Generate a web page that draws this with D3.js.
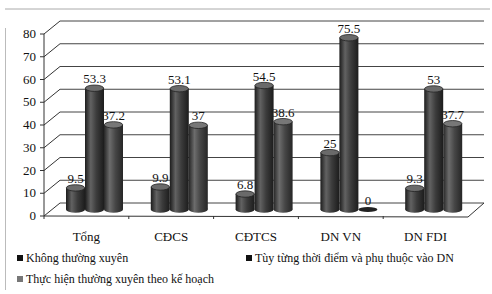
<!DOCTYPE html>
<html>
<head>
<meta charset="utf-8">
<script src="https://cdn.jsdelivr.net/npm/d3@7"></script>
<style>
  body { margin: 0; background: #fff; }
</style>
</head>
<body>
<div id="chart"></div>
<script>
var categories = ["Tổng", "CĐCS", "CĐTCS", "DN VN", "DN FDI"];
var seriesNames = ["Không thường xuyên", "Tùy từng thời điểm và phụ thuộc vào DN", "Thực hiện thường xuyên theo kế hoạch"];
var khongThuongXuyen = [9.5, 9.9, 6.8, 25, 9.3];
var tuyTungThoiDiem = [53.3, 53.1, 54.5, 75.5, 53];
var thucHienThuongXuyen = [37.2, 37, 38.6, 0, 37.7];
var yTicks = [0, 10, 20, 30, 40, 50, 60, 70, 80];

var width = 492, height = 294;
// depth offset of the 3d box (front plane -> back wall)
var dx = 16, dy = -13;

var svg = d3.select("#chart").append("svg")
    .attr("width", width)
    .attr("height", height);

// all texts in the chart use the same serif face
function label(sel, size) {
  return sel.style("font-family", "Liberation Serif")
    .style("font-size", size + "px")
    .attr("fill", "#111");
}

var defs = svg.append("defs");
function cylGrad(id, dark, mid, light) {
  var g = defs.append("linearGradient").attr("id", id)
      .attr("x1", "0%").attr("x2", "100%").attr("y1", "0%").attr("y2", "0%");
  g.append("stop").attr("offset", "0%").attr("stop-color", dark);
  g.append("stop").attr("offset", "30%").attr("stop-color", light);
  g.append("stop").attr("offset", "60%").attr("stop-color", mid);
  g.append("stop").attr("offset", "100%").attr("stop-color", dark);
}
cylGrad("g0", "#1c1c1c", "#3c3c3c", "#626262");
cylGrad("g1", "#1c1c1c", "#3c3c3c", "#626262");
cylGrad("g2", "#262626", "#464646", "#6c6c6c");
var topFill = ["#6a6a6a", "#6a6a6a", "#777"];
var legendFill = ["#111", "#111", "#777"];

// scan border remnants
svg.append("line").attr("x1", 5).attr("x2", 490).attr("y1", 9).attr("y2", 9)
    .attr("stroke", "#aaa").attr("stroke-width", 1);
svg.append("line").attr("x1", 5.5).attr("x2", 5.5).attr("y1", 28).attr("y2", 290)
    .attr("stroke", "#bbb").attr("stroke-width", 1);

// front plane scales
var y = d3.scaleLinear().domain([0, 80]).range([216, 34]);
var x0 = d3.scaleBand().domain(categories).range([44, 468]);
var x1 = d3.scaleBand().domain([0, 1, 2]).range([14, 71]);

var g = svg.append("g");

// back wall gridlines + diagonal side lines
yTicks.forEach(function(t) {
  g.append("line")
    .attr("x1", 44 + dx).attr("x2", 468 + dx)
    .attr("y1", y(t) + dy).attr("y2", y(t) + dy)
    .attr("stroke", "#444").attr("stroke-width", 1);
  g.append("line")
    .attr("x1", 44).attr("x2", 44 + dx)
    .attr("y1", y(t)).attr("y2", y(t) + dy)
    .attr("stroke", "#333").attr("stroke-width", 1);
  g.append("line")
    .attr("x1", 40).attr("x2", 44)
    .attr("y1", y(t)).attr("y2", y(t))
    .attr("stroke", "#333");
  label(g.append("text"), 13)
    .attr("x", 36).attr("y", y(t) + 4)
    .attr("text-anchor", "end")
    .text(t);
});

// front axis + floor
g.append("line").attr("x1", 44).attr("x2", 44).attr("y1", y(80)).attr("y2", y(0))
  .attr("stroke", "#333");
g.append("path")
  .attr("d", "M44," + y(0) + "L468," + (y(0) + 1) + "L" + (468 + dx) + "," + (y(0) + dy))
  .attr("fill", "none").attr("stroke", "#333");
categories.forEach(function(c) {
  var xx = x0(c);
  g.append("line").attr("x1", xx).attr("x2", xx).attr("y1", y(0)).attr("y2", y(0) + 3)
    .attr("stroke", "#333");
  label(g.append("text"), 13)
    .attr("x", x0(c) + x0.bandwidth() / 2)
    .attr("y", 241)
    .attr("text-anchor", "middle")
    .text(c);
});

var allSeries = [khongThuongXuyen, tuyTungThoiDiem, thucHienThuongXuyen];
var ry = 3.2;
function ymid(v) { return y(v) + dy / 2; }

// labels of third series go under the bars (partly hidden like the original)
function drawLabels(s) {
  categories.forEach(function(c, i) {
    var v = allSeries[s][i];
    var cx = x0(c) + x1(s) + dx / 2 + x1.bandwidth() / 2;
    label(g.append("text"), 13)
      .attr("x", cx)
      .attr("y", ymid(v) - 5)
      .attr("text-anchor", "middle")
      .text(String(v));
  });
}
drawLabels(2);

allSeries.forEach(function(vals, s) {
  categories.forEach(function(c, i) {
    var v = vals[i];
    var bx = x0(c) + x1(s) + dx / 2;
    var bw = x1.bandwidth();
    var cx = bx + bw / 2;
    var yb = ymid(0), yt = ymid(v);
    if (v == 0) {
      g.append("ellipse").attr("cx", cx).attr("cy", yb).attr("rx", bw / 2).attr("ry", ry * 0.8)
        .attr("fill", "#222");
      return;
    }
    g.append("ellipse").attr("cx", cx).attr("cy", yb).attr("rx", bw / 2).attr("ry", ry)
      .attr("fill", "url(#g" + s + ")");
    g.append("rect").attr("x", bx).attr("y", yt).attr("width", bw).attr("height", yb - yt)
      .attr("fill", "url(#g" + s + ")");
    g.append("ellipse").attr("cx", cx).attr("cy", yt).attr("rx", bw / 2 - 0.3).attr("ry", ry)
      .attr("fill", topFill[s]).attr("stroke", "#222").attr("stroke-width", 0.8);
  });
});

drawLabels(0);
drawLabels(1);

// legend
var legendPos = [[17, 262], [246, 262], [17, 283]];
seriesNames.forEach(function(name, s) {
  var lg = svg.append("g").attr("transform", "translate(" + legendPos[s][0] + "," + legendPos[s][1] + ")");
  lg.append("rect").attr("x", 0).attr("y", -7).attr("width", 6).attr("height", 6)
    .attr("fill", legendFill[s]);
  label(lg.append("text"), 12)
    .attr("x", 9).attr("y", 0)
    .text(name);
});
</script>
</body>
</html>
